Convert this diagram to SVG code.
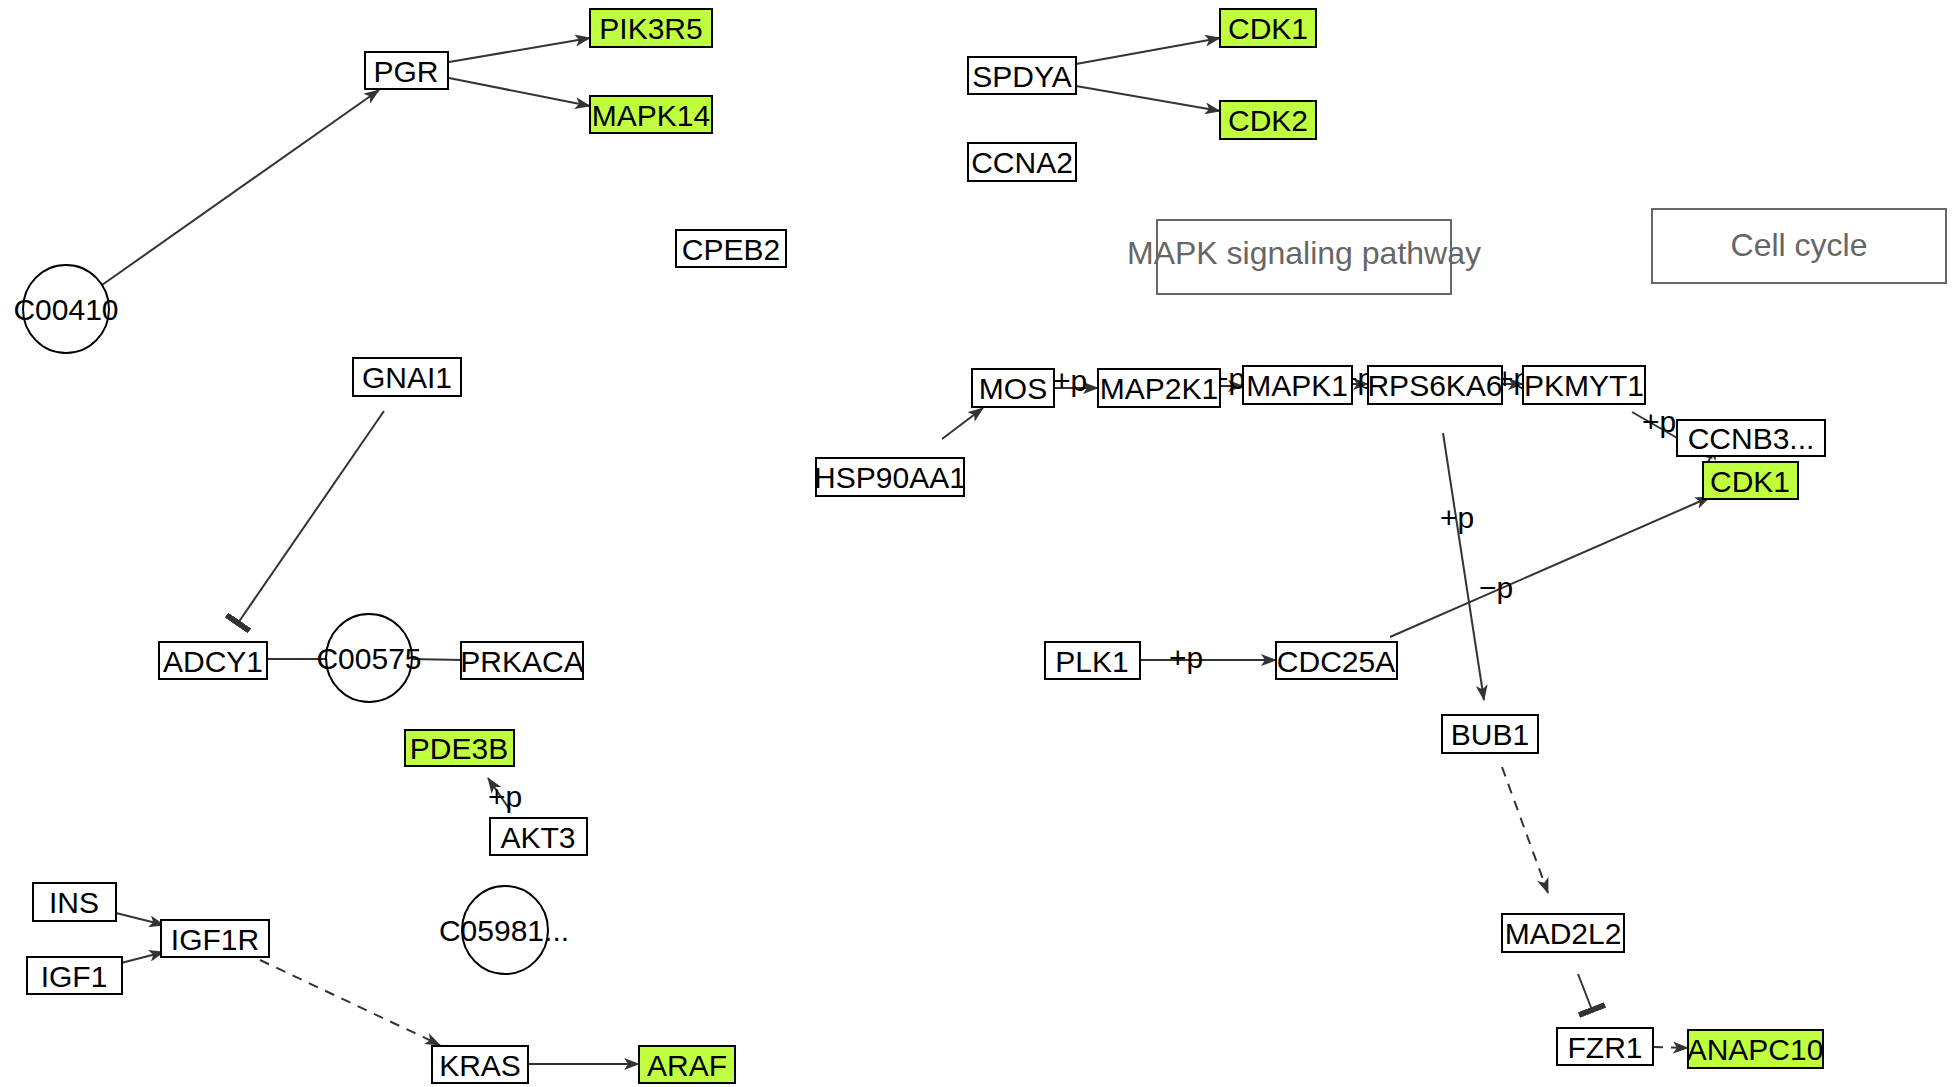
<svg xmlns="http://www.w3.org/2000/svg" width="1952" height="1087" viewBox="0 0 1952 1087">
<style>
.n rect{fill:#fff;stroke:#000;stroke-width:2}
.n.g rect{fill:#bfff3f}
.n ellipse{fill:none;stroke:#000;stroke-width:2}
text{font-family:"Liberation Sans",Arial,sans-serif;font-size:30px;fill:#000;text-anchor:middle}
.p rect{fill:none;stroke:#666;stroke-width:2}
.p text{fill:#666;font-size:32px}
.e line{stroke:#333;stroke-width:2;fill:none}
.e .a{marker-end:url(#arr)}
.e .i{marker-end:url(#inh)}
.e .d{stroke-dasharray:10,8}
.lbl{font-size:30px}
</style>
<defs>
<marker id="arr" markerUnits="userSpaceOnUse" markerWidth="16" markerHeight="12" refX="15" refY="6" orient="auto" viewBox="0 0 16 12">
<path d="M0,0 L16,6 L0,12 L4,6 z" fill="#333"/>
</marker>
<marker id="inh" markerUnits="userSpaceOnUse" markerWidth="6" markerHeight="28" refX="3" refY="14" orient="auto" viewBox="0 0 6 28">
<path d="M0,0 L6,0 L6,28 L0,28 z" fill="#333"/>
</marker>
</defs>
<g id="edges" class="e">
<line class="a" x1="102" y1="285" x2="379" y2="90"/>
<line class="a" x1="449" y1="62" x2="590" y2="38"/>
<line class="a" x1="449" y1="78" x2="590" y2="106"/>
<line class="a" x1="1076" y1="64" x2="1220" y2="38"/>
<line class="a" x1="1076" y1="86" x2="1220" y2="111"/>
<line class="i" x1="384" y1="411" x2="238" y2="623"/>
<line x1="267" y1="659" x2="327" y2="659"/>
<line x1="411" y1="659" x2="461" y2="660"/>
<line class="a" x1="510" y1="810" x2="488" y2="778"/>
<line class="a" x1="116" y1="913" x2="164" y2="925"/>
<line class="a" x1="121" y1="963" x2="164" y2="952"/>
<line class="a d" x1="260" y1="960" x2="440" y2="1045"/>
<line class="a" x1="528" y1="1064" x2="639" y2="1064"/>
<line class="a" x1="942" y1="439" x2="983" y2="408"/>
<line class="a" x1="1054" y1="388" x2="1098" y2="388"/>
<line class="a" x1="1220" y1="386" x2="1243" y2="386"/>
<line class="a" x1="1352" y1="384" x2="1368" y2="384"/>
<line class="a" x1="1502" y1="384" x2="1523" y2="384"/>
<line class="a" x1="1632" y1="412" x2="1712" y2="458"/>
<line class="a" x1="1705" y1="468" x2="1717" y2="445"/>
<line class="a" x1="1443" y1="433" x2="1484" y2="700"/>
<line class="a" x1="1390" y1="637" x2="1710" y2="497"/>
<line class="a" x1="1140" y1="660" x2="1276" y2="660"/>
<line class="a d" x1="1502" y1="767" x2="1548" y2="893"/>
<line class="i" x1="1578" y1="974" x2="1592" y2="1010"/>
<line class="a d" x1="1653" y1="1047" x2="1688" y2="1048"/>
<text class="lbl" x="505" y="807">+p</text>
<text class="lbl" x="1070" y="391">+p</text>
<text class="lbl" x="1228" y="389">+p</text>
<text class="lbl" x="1357" y="389">+p</text>
<text class="lbl" x="1513" y="389">+p</text>
<text class="lbl" x="1659" y="432">+p</text>
<text class="lbl" x="1457" y="528">+p</text>
<text class="lbl" x="1496" y="598">−p</text>
<text class="lbl" x="1186" y="668">+p</text>
</g>
<g id="PIK3R5" class="n g"><rect x="590" y="9" width="122" height="38"/><text x="651" y="39">PIK3R5</text></g>
<g id="PGR" class="n"><rect x="365" y="52" width="83" height="37"/><text x="406" y="82">PGR</text></g>
<g id="MAPK14" class="n g"><rect x="590" y="96" width="122" height="37"/><text x="651" y="126">MAPK14</text></g>
<g id="CPEB2" class="n"><rect x="676" y="230" width="110" height="37"/><text x="731" y="260">CPEB2</text></g>
<g id="C00410" class="n"><ellipse cx="66" cy="309" rx="43" ry="44"/><text x="66" y="320">C00410</text></g>
<g id="GNAI1" class="n"><rect x="353" y="358" width="108" height="38"/><text x="407" y="388">GNAI1</text></g>
<g id="ADCY1" class="n"><rect x="159" y="642" width="108" height="37"/><text x="213" y="672">ADCY1</text></g>
<g id="C00575" class="n"><ellipse cx="369" cy="658" rx="43" ry="44"/><text x="369" y="669">C00575</text></g>
<g id="PRKACA" class="n"><rect x="461" y="642" width="122" height="37"/><text x="522" y="672">PRKACA</text></g>
<g id="PDE3B" class="n g"><rect x="405" y="730" width="109" height="36"/><text x="459" y="759">PDE3B</text></g>
<g id="AKT3" class="n"><rect x="490" y="818" width="97" height="37"/><text x="538" y="848">AKT3</text></g>
<g id="INS" class="n"><rect x="33" y="883" width="83" height="38"/><text x="74" y="913">INS</text></g>
<g id="IGF1R" class="n"><rect x="161" y="920" width="108" height="37"/><text x="215" y="950">IGF1R</text></g>
<g id="IGF1" class="n"><rect x="27" y="957" width="95" height="37"/><text x="74" y="987">IGF1</text></g>
<g id="C05981" class="n"><ellipse cx="505" cy="930" rx="43" ry="44"/><text x="504" y="941">C05981...</text></g>
<g id="KRAS" class="n"><rect x="432" y="1046" width="96" height="37"/><text x="480" y="1076">KRAS</text></g>
<g id="ARAF" class="n g"><rect x="639" y="1046" width="96" height="37"/><text x="687" y="1076">ARAF</text></g>
<g id="CDK1a" class="n g"><rect x="1220" y="9" width="96" height="38"/><text x="1268" y="39">CDK1</text></g>
<g id="SPDYA" class="n"><rect x="968" y="57" width="108" height="37"/><text x="1022" y="87">SPDYA</text></g>
<g id="CDK2" class="n g"><rect x="1220" y="101" width="96" height="38"/><text x="1268" y="131">CDK2</text></g>
<g id="CCNA2" class="n"><rect x="968" y="143" width="108" height="38"/><text x="1022" y="173">CCNA2</text></g>
<g id="MAPKpath" class="p"><rect x="1157" y="220" width="294" height="74"/><text x="1304" y="264">MAPK signaling pathway</text></g>
<g id="CellCycle" class="p"><rect x="1652" y="209" width="294" height="74"/><text x="1799" y="256">Cell cycle</text></g>
<g id="MOS" class="n"><rect x="972" y="369" width="82" height="38"/><text x="1013" y="399">MOS</text></g>
<g id="MAP2K1" class="n"><rect x="1098" y="369" width="122" height="38"/><text x="1159" y="399">MAP2K1</text></g>
<g id="MAPK1" class="n"><rect x="1243" y="366" width="109" height="38"/><text x="1297" y="396">MAPK1</text></g>
<g id="RPS6KA6" class="n"><rect x="1368" y="366" width="134" height="38"/><text x="1435" y="396">RPS6KA6</text></g>
<g id="PKMYT1" class="n"><rect x="1523" y="366" width="122" height="38"/><text x="1584" y="396">PKMYT1</text></g>
<g id="HSP90AA1" class="n"><rect x="816" y="458" width="148" height="38"/><text x="890" y="488">HSP90AA1</text></g>
<g id="CCNB3" class="n"><rect x="1677" y="420" width="148" height="36"/><text x="1751" y="449">CCNB3...</text></g>
<g id="CDK1b" class="n g"><rect x="1703" y="462" width="95" height="37"/><text x="1750" y="492">CDK1</text></g>
<g id="PLK1" class="n"><rect x="1045" y="642" width="95" height="37"/><text x="1092" y="672">PLK1</text></g>
<g id="CDC25A" class="n"><rect x="1276" y="642" width="121" height="37"/><text x="1336" y="672">CDC25A</text></g>
<g id="BUB1" class="n"><rect x="1442" y="715" width="96" height="38"/><text x="1490" y="745">BUB1</text></g>
<g id="MAD2L2" class="n"><rect x="1502" y="914" width="122" height="38"/><text x="1563" y="944">MAD2L2</text></g>
<g id="FZR1" class="n"><rect x="1557" y="1028" width="96" height="37"/><text x="1605" y="1058">FZR1</text></g>
<g id="ANAPC10" class="n g"><rect x="1688" y="1030" width="135" height="38"/><text x="1755" y="1060">ANAPC10</text></g>
</svg>
